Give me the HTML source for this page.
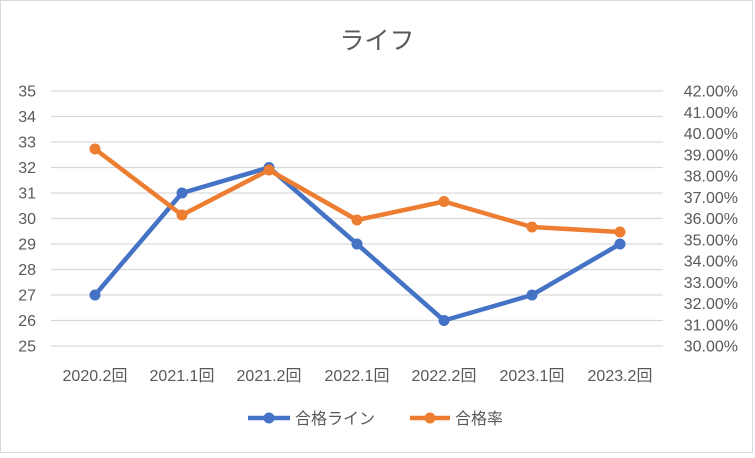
<!DOCTYPE html>
<html><head><meta charset="utf-8"><style>
body{margin:0;background:#fff;}
svg{display:block;font-family:"Liberation Sans","Noto Sans CJK JP",sans-serif;}
</style></head><body>
<svg width="755" height="458" viewBox="0 0 755 458">
<rect x="0.5" y="0.5" width="752" height="452" fill="#fff" stroke="#d9d9d9"/>
<text x="377" y="49" text-anchor="middle" font-size="25" fill="#595959">ライフ</text>
<g stroke="#d9d9d9" stroke-width="1.3">
<line x1="51" x2="663" y1="91" y2="91"/><line x1="51" x2="663" y1="116.5" y2="116.5"/>
<line x1="51" x2="663" y1="142" y2="142"/><line x1="51" x2="663" y1="167.5" y2="167.5"/>
<line x1="51" x2="663" y1="193" y2="193"/><line x1="51" x2="663" y1="218.5" y2="218.5"/>
<line x1="51" x2="663" y1="244" y2="244"/><line x1="51" x2="663" y1="269.5" y2="269.5"/>
<line x1="51" x2="663" y1="295" y2="295"/><line x1="51" x2="663" y1="320.5" y2="320.5"/>
<line x1="51" x2="663" y1="346" y2="346"/>
</g>
<g font-size="16" fill="#595959" text-anchor="end">
<text x="36" y="96.5">35</text><text x="36" y="122">34</text><text x="36" y="147.5">33</text>
<text x="36" y="173">32</text><text x="36" y="198.5">31</text><text x="36" y="224">30</text>
<text x="36" y="249.5">29</text><text x="36" y="275">28</text><text x="36" y="300.5">27</text>
<text x="36" y="326">26</text><text x="36" y="351.5">25</text>
</g>
<g font-size="16" fill="#595959" text-anchor="end">
<text x="738" y="96.5">42.00%</text><text x="738" y="117.75">41.00%</text><text x="738" y="139">40.00%</text>
<text x="738" y="160.25">39.00%</text><text x="738" y="181.5">38.00%</text><text x="738" y="202.75">37.00%</text>
<text x="738" y="224">36.00%</text><text x="738" y="245.25">35.00%</text><text x="738" y="266.5">34.00%</text>
<text x="738" y="287.75">33.00%</text><text x="738" y="309">32.00%</text><text x="738" y="330.25">31.00%</text>
<text x="738" y="351.5">30.00%</text>
</g>
<g font-size="16" fill="#595959" text-anchor="middle">
<text x="95" y="381">2020.2回</text><text x="182" y="381">2021.1回</text><text x="269" y="381">2021.2回</text>
<text x="357" y="381">2022.1回</text><text x="444" y="381">2022.2回</text><text x="532" y="381">2023.1回</text>
<text x="620" y="381">2023.2回</text>
</g>
<polyline points="95,295 182,193 269,167.5 357,244 444,320.5 532,295 620,244" fill="none" stroke="#4472c4" stroke-width="4.5" stroke-linejoin="round"/>
<g fill="#4472c4"><circle cx="95" cy="295" r="5.5"/><circle cx="182" cy="193" r="5.5"/><circle cx="269" cy="167.5" r="5.5"/><circle cx="357" cy="244" r="5.5"/><circle cx="444" cy="320.5" r="5.5"/><circle cx="532" cy="295" r="5.5"/><circle cx="620" cy="244" r="5.5"/></g>
<polyline points="95,149 182,215 269,170 357,220 444,201.5 532,227 620,232" fill="none" stroke="#ed7d31" stroke-width="4.5" stroke-linejoin="round"/>
<g fill="#ed7d31"><circle cx="95" cy="149" r="5.5"/><circle cx="182" cy="215" r="5.5"/><circle cx="269" cy="170" r="5.5"/><circle cx="357" cy="220" r="5.5"/><circle cx="444" cy="201.5" r="5.5"/><circle cx="532" cy="227" r="5.5"/><circle cx="620" cy="232" r="5.5"/></g>
<line x1="248" x2="290" y1="418" y2="418" stroke="#4472c4" stroke-width="4.5"/>
<circle cx="269" cy="418" r="5.5" fill="#4472c4"/>
<text x="295" y="424" font-size="16" fill="#595959">合格ライン</text>
<line x1="410" x2="450" y1="418" y2="418" stroke="#ed7d31" stroke-width="4.5"/>
<circle cx="430" cy="418" r="5.5" fill="#ed7d31"/>
<text x="455" y="424" font-size="16" fill="#595959">合格率</text>
</svg>
</body></html>
